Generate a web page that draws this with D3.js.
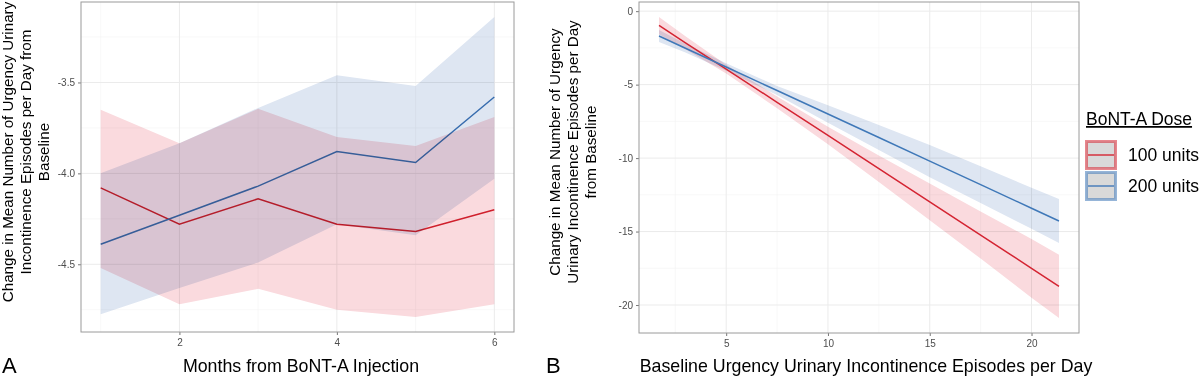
<!DOCTYPE html>
<html>
<head>
<meta charset="utf-8">
<script src="https://cdn.jsdelivr.net/npm/d3@7"></script>
<style>
  body { margin: 0; background: #fff; }
  svg { display: block; font-family: "Liberation Sans", Arial, sans-serif; }
  .grid-major { stroke: #ebebeb; stroke-width: 1; }
  .grid-minor { stroke: #f4f4f4; stroke-width: 0.6; }
  .tick text { fill: #4d4d4d; font-size: 10px; }
  .tick line { stroke: #777; }
  .domain { display: none; }
  .ribbon { mix-blend-mode: multiply; }
</style>
</head>
<body>
<svg id="chart" width="1200" height="379"></svg>
<script>
// Panel A: change by month after injection
var months = [1, 2, 3, 4, 5, 6];
var mean100 = [-4.08, -4.28, -4.14, -4.28, -4.32, -4.20];
var lo100 = [-4.52, -4.72, -4.635, -4.75, -4.79, -4.72];
var hi100 = [-3.65, -3.835, -3.645, -3.80, -3.85, -3.69];
var mean200 = [-4.39, -4.23, -4.07, -3.88, -3.94, -3.58];
var lo200 = [-4.775, -4.63, -4.49, -4.28, -4.34, -4.03];
var hi200 = [-4.0, -3.835, -3.64, -3.46, -3.52, -3.14];
var ticksA_x = [2, 4, 6];
var ticksA_y = [-3.5, -4.0, -4.5];

// Panel B: change vs baseline episodes (linear fit with CI)
var baseline = [1.7, 3, 5, 7.5, 10, 12.5, 15, 17.5, 20, 21.35];
var fit100 = [-0.97, -2.15, -3.95, -6.2, -8.46, -10.72, -12.98, -15.24, -17.5, -18.73];
var fitLo100 = [-1.57, -2.6, -4.25, -6.6, -9.06, -11.62, -14.23, -16.84, -19.5, -20.88];
var fitHi100 = [-0.4, -1.7, -3.65, -5.8, -7.86, -9.82, -11.73, -13.64, -15.5, -16.58];
var fit200 = [-1.69, -2.52, -3.8, -5.4, -7.0, -8.6, -10.21, -11.81, -13.41, -14.28];
var fitLo200 = [-2.09, -2.82, -4.05, -5.7, -7.6, -9.45, -11.31, -13.06, -14.81, -15.78];
var fitHi200 = [-1.29, -2.22, -3.55, -5.1, -6.4, -7.75, -9.11, -10.56, -12.01, -12.78];
var ticksB_x = [5, 10, 15, 20];
var ticksB_y = [0, -5, -10, -15, -20];

var doses = ['100 units', '200 units'];
var lineColors = ['#d42432', '#3f78b8'];
var fillColors = ['#fadade', '#dee6f2'];

var svg = d3.select('#chart');

// ggplot style 5% padding
function padded(lo, hi) {
    var d = (hi - lo) * 0.05;
    return [lo - d, hi + d];
}

// plain hyphen instead of the unicode minus d3 uses
function hyphen(fmt) {
    return function (v) { return fmt(v).replace('\u2212', '-'); };
}

function drawPanel(opt) {
    var g = svg.append('g');
    var x = d3.scaleLinear().domain(padded(d3.min(opt.xs), d3.max(opt.xs))).range([opt.left, opt.right]);
    var yAll = opt.series.reduce(function (a, s) { return a.concat(s.lo, s.hi); }, []);
    var y = d3.scaleLinear().domain(padded(d3.min(yAll), d3.max(yAll))).range([opt.bottom, opt.top]);

    // minor grid (halfway between major ticks)
    var xMinor = [], yMinor = [];
    var xs = opt.xTicks, ys = opt.yTicks;
    var dx = xs[1] - xs[0], dy = ys[1] - ys[0];
    for (var i = -1; i < xs.length; i++) xMinor.push(xs[0] + dx * (i + 0.5));
    for (var j = -1; j < ys.length; j++) yMinor.push(ys[0] + dy * (j + 0.5));
    xMinor = xMinor.filter(function (v) { return x(v) > opt.left && x(v) < opt.right; });
    yMinor = yMinor.filter(function (v) { return y(v) < opt.bottom && y(v) > opt.top; });

    g.selectAll('.xminor').data(xMinor).enter().append('line')
        .attr('class', 'grid-minor')
        .attr('x1', d => x(d)).attr('x2', d => x(d))
        .attr('y1', opt.top).attr('y2', opt.bottom);
    g.selectAll('.yminor').data(yMinor).enter().append('line')
        .attr('class', 'grid-minor')
        .attr('y1', d => y(d)).attr('y2', d => y(d))
        .attr('x1', opt.left).attr('x2', opt.right);
    g.selectAll('.xmajor').data(xs).enter().append('line')
        .attr('class', 'grid-major')
        .attr('x1', d => x(d)).attr('x2', d => x(d))
        .attr('y1', opt.top).attr('y2', opt.bottom);
    g.selectAll('.ymajor').data(ys).enter().append('line')
        .attr('class', 'grid-major')
        .attr('y1', d => y(d)).attr('y2', d => y(d))
        .attr('x1', opt.left).attr('x2', opt.right);

    var area = d3.area()
        .x(d => x(d.x)).y0(d => y(d.lo)).y1(d => y(d.hi));
    var line = d3.line().x(d => x(d.x)).y(d => y(d.y));

    function drawLines() {
        opt.series.forEach(function (s, k) {
            g.append('path')
                .datum(opt.xs.map(function (v, i) { return { x: v, y: s.mean[i] }; }))
                .attr('d', line)
                .attr('fill', 'none')
                .attr('stroke', lineColors[k])
                .attr('stroke-width', 1.5);
        });
    }
    function drawRibbons() {
        opt.series.forEach(function (s, k) {
            g.append('path')
                .attr('class', 'ribbon')
                .datum(opt.xs.map(function (v, i) { return { x: v, lo: s.lo[i], hi: s.hi[i] }; }))
                .attr('d', area)
                .attr('fill', fillColors[k]);
        });
    }
    // in panel A the ribbons sit over the lines
    if (opt.linesUnder) { drawLines(); drawRibbons(); }
    else { drawRibbons(); drawLines(); }

    // axes
    g.append('g')
        .attr('transform', 'translate(0,' + opt.bottom + ')')
        .call(d3.axisBottom(x).tickValues(xs).tickSize(3).tickPadding(4).tickFormat(d3.format('d')));
    g.append('g')
        .attr('transform', 'translate(' + opt.left + ',0)')
        .call(d3.axisLeft(y).tickValues(ys).tickSize(3).tickPadding(3).tickFormat(hyphen(opt.yFormat)));

    g.append('rect')
        .attr('x', opt.left).attr('y', opt.top)
        .attr('width', opt.right - opt.left).attr('height', opt.bottom - opt.top)
        .attr('fill', 'none').attr('stroke', '#9a9a9a').attr('stroke-width', 1);

    // axis titles
    g.append('text')
        .attr('x', opt.xTitleX).attr('y', 372)
        .attr('text-anchor', 'middle')
        .style('font-size', '17.8px')
        .text(opt.xTitle);
    var yt = g.append('text')
        .attr('transform', 'translate(' + opt.yTitleX + ',152) rotate(-90)')
        .attr('text-anchor', 'middle')
        .style('font-size', '15.2px');
    opt.yTitle.forEach(function (t, i) {
        yt.append('tspan').attr('x', 0).attr('y', i * 18.2).text(t);
    });

    g.append('text')
        .attr('x', opt.letterX).attr('y', 373)
        .style('font-size', '22px')
        .text(opt.letter);
}

drawPanel({
    xs: months,
    series: [
        { mean: mean100, lo: lo100, hi: hi100 },
        { mean: mean200, lo: lo200, hi: hi200 }
    ],
    left: 81, right: 514, top: 2, bottom: 332,
    xTicks: ticksA_x, yTicks: ticksA_y,
    yFormat: d3.format('.1f'),
    linesUnder: true,
    xTitle: 'Months from BoNT-A Injection', xTitleX: 301,
    yTitle: ['Change in Mean Number of Urgency Urinary', 'Incontinence Episodes per Day from', 'Baseline'],
    yTitleX: 13,
    letter: 'A', letterX: 2
});

drawPanel({
    xs: baseline,
    series: [
        { mean: fit100, lo: fitLo100, hi: fitHi100 },
        { mean: fit200, lo: fitLo200, hi: fitHi200 }
    ],
    left: 639, right: 1079, top: 2, bottom: 333,
    xTicks: ticksB_x, yTicks: ticksB_y,
    yFormat: d3.format('d'),
    linesUnder: false,
    xTitle: 'Baseline Urgency Urinary Incontinence Episodes per Day', xTitleX: 866,
    yTitle: ['Change in Mean Number of Urgency', 'Urinary Incontinence Episodes per Day', 'from Baseline'],
    yTitleX: 560,
    letter: 'B', letterX: 546
});

// legend
var legend = svg.append('g');
legend.append('text')
    .attr('x', 1086).attr('y', 125)
    .style('font-size', '17.5px')
    .style('text-decoration', 'underline')
    .text('BoNT-A Dose');
var keys = legend.selectAll('.key').data(doses).enter().append('g')
    .attr('transform', (d, i) => 'translate(1086,' + (141 + i * 31) + ')');
keys.append('rect')
    .attr('x', 0.5).attr('y', 0.5).attr('width', 29).attr('height', 27)
    .attr('fill', '#d9d9d9')
    .attr('stroke', (d, i) => lineColors[i])
    .attr('stroke-opacity', 0.55)
    .attr('stroke-width', 3);
keys.append('line')
    .attr('x1', 2).attr('x2', 28).attr('y1', 14).attr('y2', 14)
    .attr('stroke', (d, i) => lineColors[i]).attr('stroke-width', 1.4);
keys.append('text')
    .attr('x', 42).attr('y', 20)
    .style('font-size', '17.5px')
    .text(d => d);
</script>
</body>
</html>
